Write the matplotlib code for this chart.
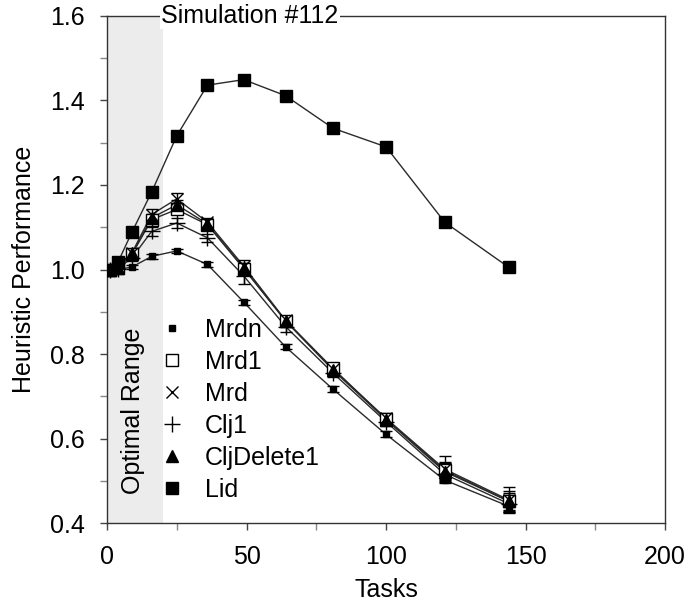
import numpy as np
import matplotlib.pyplot as plt
from matplotlib.ticker import MultipleLocator

plt.rcParams["font.family"] = ["Liberation Sans", "DejaVu Sans"]
plt.rcParams["font.size"] = 18

# task counts (x) shared by every series
tasks = [1, 4, 9, 16, 25, 36, 49, 64, 81, 100, 121, 144]

mrdn = [1.000, 1.000, 1.006, 1.031, 1.044, 1.012, 0.923, 0.817, 0.717, 0.610, 0.502, 0.440]
mrd1 = [1.000, 1.003, 1.036, 1.118, 1.142, 1.106, 1.002, 0.879, 0.766, 0.646, 0.525, 0.452]
mrd = [1.000, 1.005, 1.040, 1.130, 1.167, 1.112, 1.008, 0.880, 0.764, 0.648, 0.528, 0.455]
clj1 = [1.000, 1.002, 1.028, 1.090, 1.110, 1.075, 0.985, 0.865, 0.755, 0.640, 0.516, 0.446]
cljdelete1 = [1.000, 1.004, 1.038, 1.122, 1.153, 1.108, 1.004, 0.878, 0.762, 0.645, 0.522, 0.452]
lid = [1.000, 1.018, 1.089, 1.183, 1.316, 1.436, 1.449, 1.411, 1.334, 1.290, 1.112, 1.005]

# standard errors
mrdn_err = [0.0, 0.002, 0.005, 0.005, 0.005, 0.006, 0.006, 0.006, 0.007, 0.007, 0.006, 0.012]
mrd1_err = [0.0, 0.003, 0.006, 0.010, 0.010, 0.010, 0.012, 0.010, 0.010, 0.010, 0.020, 0.020]
mrd_err = [0.0, 0.003, 0.006, 0.012, 0.015, 0.010, 0.015, 0.010, 0.010, 0.012, 0.030, 0.030]
clj1_err = [0.0, 0.003, 0.008, 0.010, 0.012, 0.010, 0.020, 0.012, 0.010, 0.010, 0.015, 0.020]
cljdelete1_err = [0.0, 0.003, 0.006, 0.010, 0.012, 0.010, 0.012, 0.010, 0.010, 0.010, 0.020, 0.025]

series = [
    ("Mrdn", mrdn, mrdn_err, dict(marker="s", ms=5, mfc="black", mec="black")),
    ("Mrd1", mrd1, mrd1_err, dict(marker="s", ms=9, mfc="white", mec="black", mew=1)),
    ("Mrd", mrd, mrd_err, dict(marker="x", ms=9, mec="black", mew=1)),
    ("Clj1", clj1, clj1_err, dict(marker="+", ms=11, mec="black", mew=1)),
    ("CljDelete1", cljdelete1, cljdelete1_err, dict(marker="^", ms=8, mfc="black", mec="black")),
    ("Lid", lid, None, dict(marker="s", ms=9, mfc="black", mec="black")),
]

fig = plt.figure(figsize=(6.9, 6.07), dpi=100)
ax = fig.add_axes([0.155, 0.138, 0.809, 0.836])

ax.axvspan(0, 20, color="#ececec", lw=0, zorder=0)

for name, y, err, style in series:
    ax.plot(tasks, y, color="#2a2a2a", lw=1, zorder=2)
    if err is not None:
        ax.errorbar(tasks, y, yerr=err, fmt="none", ecolor="black", elinewidth=1,
                    capsize=4, capthick=1, zorder=3)
    ax.plot(tasks, y, ls="none", label=name, zorder=4, **style)

ax.set_xlim(0, 200)
ax.set_ylim(0.4, 1.6)
ax.xaxis.set_major_locator(MultipleLocator(50))
ax.xaxis.set_minor_locator(MultipleLocator(25))
ax.yaxis.set_major_locator(MultipleLocator(0.2))
ax.yaxis.set_minor_locator(MultipleLocator(0.1))
ax.yaxis.set_major_formatter(plt.FuncFormatter(lambda v, _: f"{v:.1f}"))
ax.tick_params(which="major", direction="out", length=5, width=1, color="#444444")
ax.tick_params(axis="y", which="major", pad=11)
ax.tick_params(axis="x", which="major", pad=11)
ax.tick_params(which="minor", direction="out", length=5, width=1, color="#888888")
for s in ax.spines.values():
    s.set_linewidth(1)
    s.set_color("#333333")

ax.set_xlabel("Tasks", labelpad=6)
ax.set_ylabel("Heuristic Performance", labelpad=10)

ax.text(0.256, 1.0, "Simulation #112", transform=ax.transAxes, ha="center", va="center",
        bbox=dict(facecolor="white", edgecolor="none", pad=1), zorder=6, clip_on=False)
ax.text(9.3, 0.667, "Optimal Range", rotation=90, ha="center", va="center", zorder=5)

ax.legend(loc="upper left", bbox_to_anchor=(0.095, 0.405), frameon=False, borderpad=0,
          borderaxespad=0, handlelength=1.0, handletextpad=0.8, labelspacing=0.32,
          numpoints=1)

fig.savefig("out.png", dpi=100)
